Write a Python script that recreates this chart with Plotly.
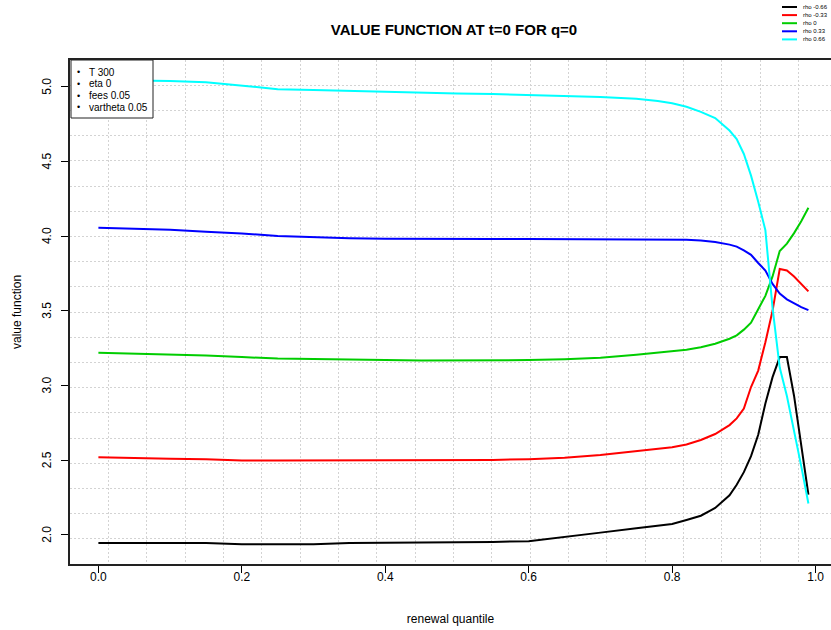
import plotly.graph_objects as go

# ---- data ----
renewal_quantile = [0, 0.05, 0.1, 0.15, 0.2, 0.25, 0.3, 0.35, 0.4, 0.45, 0.5, 0.55, 0.6, 0.65,
                    0.7, 0.75, 0.78, 0.8, 0.82, 0.84, 0.86, 0.88, 0.89, 0.9, 0.91, 0.92, 0.93,
                    0.94, 0.95, 0.96, 0.97, 0.98, 0.99]

rho_m066 = [1.945, 1.945, 1.945, 1.945, 1.937, 1.937, 1.937, 1.945, 1.946, 1.948, 1.95, 1.953,
            1.958, 1.985, 2.015, 2.045, 2.062, 2.073, 2.1, 2.128, 2.18, 2.265, 2.335, 2.42,
            2.527, 2.67, 2.88, 3.056, 3.19, 3.19, 2.93, 2.6, 2.27]
rho_m033 = [2.52, 2.513, 2.51, 2.507, 2.498, 2.498, 2.498, 2.498, 2.498, 2.498, 2.498, 2.502,
            2.507, 2.517, 2.535, 2.558, 2.575, 2.586, 2.605, 2.635, 2.675, 2.735, 2.78, 2.845,
            2.99, 3.1, 3.29, 3.5, 3.78, 3.77, 3.73, 3.68, 3.63]
rho_0 = [3.22, 3.215, 3.21, 3.2, 3.19, 3.18, 3.178, 3.172, 3.17, 3.168, 3.168, 3.168, 3.17,
         3.175, 3.185, 3.205, 3.22, 3.23, 3.24, 3.256, 3.28, 3.313, 3.336, 3.374, 3.42, 3.51,
         3.6, 3.73, 3.9, 3.95, 4.02, 4.1, 4.19]
rho_033 = [4.056, 4.05, 4.043, 4.03, 4.018, 4.0, 3.992, 3.986, 3.982, 3.98, 3.98, 3.98, 3.98,
           3.98, 3.98, 3.98, 3.98, 3.98, 3.976, 3.97, 3.96, 3.943, 3.93, 3.905, 3.875, 3.82,
           3.77, 3.68, 3.616, 3.577, 3.55, 3.525, 3.505]
rho_066 = [5.045, 5.042, 5.038, 5.03, 5.005, 4.984, 4.978, 4.972, 4.963, 4.958, 4.955, 4.951,
           4.945, 4.938, 4.932, 4.92, 4.905, 4.889, 4.866, 4.832, 4.79, 4.707, 4.65, 4.55,
           4.405, 4.23, 4.04, 3.52, 3.12, 2.93, 2.7, 2.46, 2.21]

series_names = ["rho -0.66", "rho -0.33", "rho 0", "rho 0.33", "rho 0.66"]
series_values = [rho_m066, rho_m033, rho_0, rho_033, rho_066]
series_colors = ["#000000", "#FF0000", "#00CD00", "#0000FF", "#00FFFF"]

param_labels = ["T 300", "eta 0", "fees 0.05", "vartheta 0.05"]
x_tick_vals = [0, 0.2, 0.4, 0.6, 0.8, 1.0]
x_tick_text = ["0.0", "0.2", "0.4", "0.6", "0.8", "1.0"]
y_tick_vals = [2.0, 2.5, 3.0, 3.5, 4.0, 4.5, 5.0]
y_tick_text = ["2.0", "2.5", "3.0", "3.5", "4.0", "4.5", "5.0"]

# ---- layout geometry ----
W, H = 831, 630
ML, MR, MT, MB = 70, 0, 60, 66
XR = [-0.0396, 1.0215]          # visible part of R's usr range
X_USR = [-0.0396, 1.0296]
Y_USR = [1.805, 5.179]

def px(xr):
    """window x pixel -> paper fraction"""
    return (xr - ML) / (W - ML - MR)

def py(yr):
    """window y pixel -> paper fraction"""
    return (H - MB - yr) / (H - MT - MB)

FONT = "Liberation Sans, Arial, sans-serif"

fig = go.Figure()
for name, vals, col in zip(series_names, series_values, series_colors):
    fig.add_trace(go.Scatter(x=renewal_quantile, y=vals, mode="lines", name=name,
                             line=dict(color=col, width=2), showlegend=False))

shapes = []
annotations = []

# y tick labels, R style (rotated, parallel to the axis)
for v, t in zip(y_tick_vals, y_tick_text):
    annotations.append(dict(xref="paper", yref="y", x=px(47), y=v, text=t,
                            textangle=-90, showarrow=False, xanchor="center", yanchor="middle",
                            font=dict(size=12, family=FONT, color="black")))
# y axis title
annotations.append(dict(xref="paper", yref="paper", x=px(17), y=0.5, text="value function",
                        textangle=-90, showarrow=False, xanchor="center", yanchor="middle",
                        font=dict(size=12, family=FONT, color="black")))

# top-right legend (drawn manually, R style)
for i, (name, col) in enumerate(zip(series_names, series_colors)):
    yy = 7 + i * 8.1
    shapes.append(dict(type="line", xref="paper", yref="paper",
                       x0=px(782), x1=px(797), y0=py(yy), y1=py(yy),
                       line=dict(color=col, width=2)))
    annotations.append(dict(xref="paper", yref="paper", x=px(801), y=py(yy),
                            text=name, showarrow=False, xanchor="left", yanchor="middle",
                            font=dict(size=6, family=FONT, color="black")))

# top-left parameter box
shapes.append(dict(type="rect", xref="paper", yref="paper",
                   x0=px(71), x1=px(153), y0=py(60), y1=py(118),
                   line=dict(color="#222222", width=1), fillcolor="white", layer="above"))
for i, lab in enumerate(param_labels):
    yy = 72 + i * 11.8
    annotations.append(dict(xref="paper", yref="paper", x=px(78.5), y=py(yy),
                            text="•", showarrow=False, xanchor="center", yanchor="middle",
                            font=dict(size=9, family=FONT, color="black")))
    annotations.append(dict(xref="paper", yref="paper", x=px(87), y=py(yy),
                            text=lab, showarrow=False, xanchor="left", yanchor="middle",
                            font=dict(size=10, family=FONT, color="black")))

fig.update_layout(
    width=W, height=H,
    margin=dict(l=ML, r=MR, t=MT, b=MB, pad=0),
    paper_bgcolor="white", plot_bgcolor="white",
    font=dict(family=FONT, size=12, color="black"),
    title=dict(text="<b>VALUE FUNCTION AT t=0 FOR q=0</b>", xref="container",
               x=454 / W, xanchor="center",
               y=1 - 30 / H, yanchor="middle",
               font=dict(size=15, family=FONT, color="black")),
    shapes=shapes, annotations=annotations,
    xaxis=dict(range=XR, showgrid=False, zeroline=False,
               tickmode="array", tickvals=x_tick_vals, ticktext=x_tick_text,
               ticks="outside", ticklen=7, tickcolor="black", tickwidth=1,
               ticklabelstandoff=-6,
               showline=True, linecolor="#222222", linewidth=1.5, mirror=True,
               tickfont=dict(size=12, family=FONT),
               title=dict(text="renewal quantile", standoff=31, font=dict(size=12, family=FONT)),
               minor=dict(tick0=X_USR[0], dtick=(X_USR[1] - X_USR[0]) / 20, showgrid=True,
                          gridcolor="#d3d3d3", griddash="2px,2px", gridwidth=1, ticks="")),
    yaxis=dict(range=Y_USR, showgrid=False, zeroline=False,
               tickmode="array", tickvals=y_tick_vals, showticklabels=False,
               ticks="outside", ticklen=7, tickcolor="black", tickwidth=1,
               showline=True, linecolor="#222222", linewidth=1.5, mirror=False,
               minor=dict(tick0=Y_USR[0], dtick=(Y_USR[1] - Y_USR[0]) / 20, showgrid=True,
                          gridcolor="#d3d3d3", griddash="2px,2px", gridwidth=1, ticks="")),
)

# remove the page's default body margin so the figure sits at the window's corner
fig.write_html("out.html", config={"displayModeBar": False},
               post_script="document.body.style.margin='0';")
